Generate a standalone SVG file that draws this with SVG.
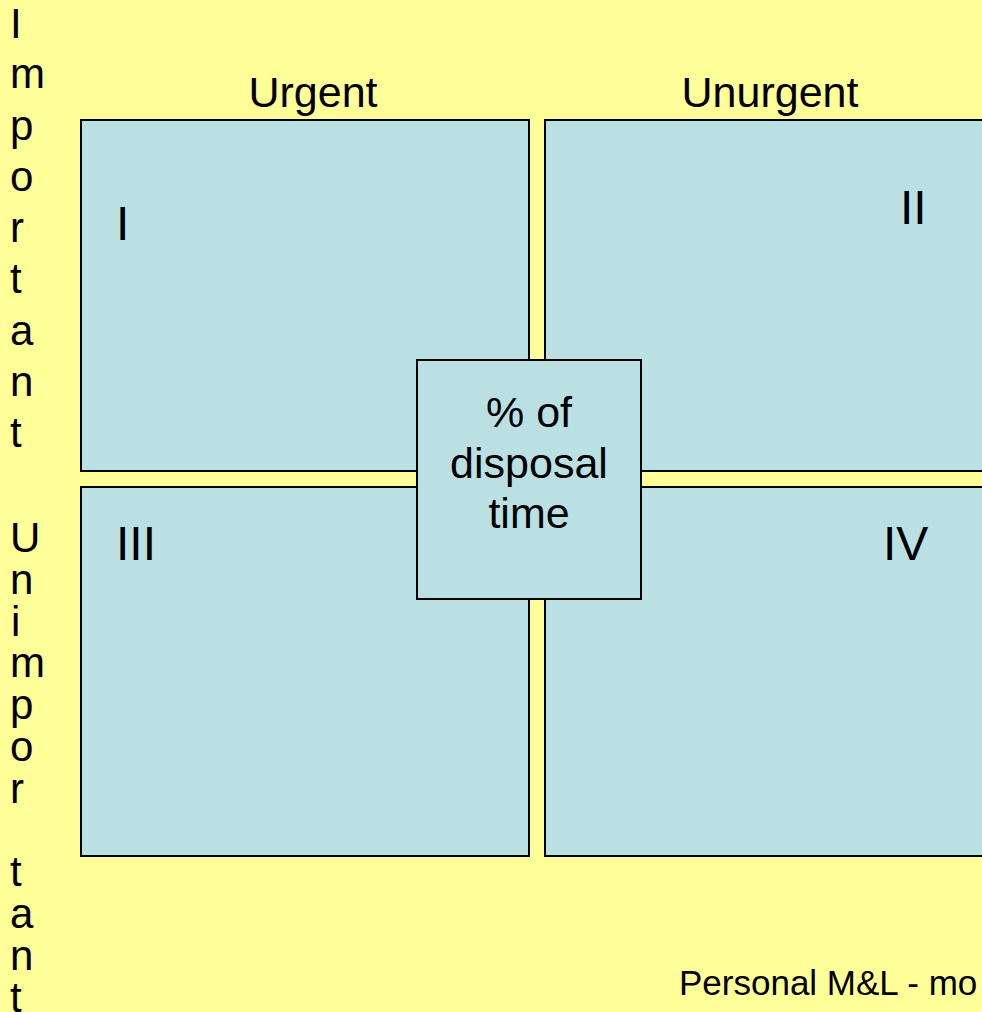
<svg xmlns="http://www.w3.org/2000/svg" width="982" height="1012" viewBox="0 0 982 1012">
  <style>
    .bg { fill: #FFFF99; }
    .box { fill: #BBE0E3; stroke: #000000; stroke-width: 2; }
    .t { font-family: "Liberation Sans", Arial, sans-serif; fill: #000000; }
    .head { font-size: 43px; text-anchor: middle; }
    .num { font-size: 48px; }
    .side { font-size: 42px; }
    .center { font-size: 43px; text-anchor: middle; }
    .foot { font-size: 35px; }
  </style>
  <rect class="bg" x="0" y="0" width="982" height="1012"/>

  <g id="heading-urgent">
    <text class="t head" x="313" y="107">Urgent</text>
  </g>
  <g id="heading-unurgent">
    <text class="t head" x="770" y="107">Unurgent</text>
  </g>

  <g id="side-important">
    <text class="t side" x="10" y="38">I</text>
    <text class="t side" x="10" y="88">m</text>
    <text class="t side" x="10" y="140">p</text>
    <text class="t side" x="10" y="191">o</text>
    <text class="t side" x="10" y="242">r</text>
    <text class="t side" x="10" y="293">t</text>
    <text class="t side" x="10" y="345">a</text>
    <text class="t side" x="10" y="396">n</text>
    <text class="t side" x="10" y="447">t</text>
  </g>
  <g id="side-unimportant">
    <text class="t side" x="10" y="552">U</text>
    <text class="t side" x="10" y="594">n</text>
    <text class="t side" x="11" y="636">i</text>
    <text class="t side" x="10" y="677">m</text>
    <text class="t side" x="10" y="719">p</text>
    <text class="t side" x="10" y="761">o</text>
    <text class="t side" x="10" y="803">r</text>
    <text class="t side" x="10" y="886">t</text>
    <text class="t side" x="10" y="928">a</text>
    <text class="t side" x="10" y="970">n</text>
    <text class="t side" x="10" y="1012">t</text>
  </g>

  <g id="quadrant-1">
    <rect class="box" x="81" y="120" width="448" height="351"/>
    <text class="t num" x="116" y="240">I</text>
  </g>
  <g id="quadrant-2">
    <rect class="box" x="545" y="120" width="460" height="351"/>
    <text class="t num" x="900" y="224">II</text>
  </g>
  <g id="quadrant-3">
    <rect class="box" x="81" y="487" width="448" height="369"/>
    <text class="t num" x="116" y="560">III</text>
  </g>
  <g id="quadrant-4">
    <rect class="box" x="545" y="487" width="460" height="369"/>
    <text class="t num" x="883" y="560">IV</text>
  </g>

  <g id="center">
    <rect class="box" x="417" y="360" width="224" height="239"/>
    <text class="t center" x="529" y="427">% of</text>
    <text class="t center" x="529" y="478">disposal</text>
    <text class="t center" x="529" y="528">time</text>
  </g>

  <g id="footer">
    <text class="t foot" x="679" y="995">Personal M&amp;L - mo</text>
  </g>
</svg>
